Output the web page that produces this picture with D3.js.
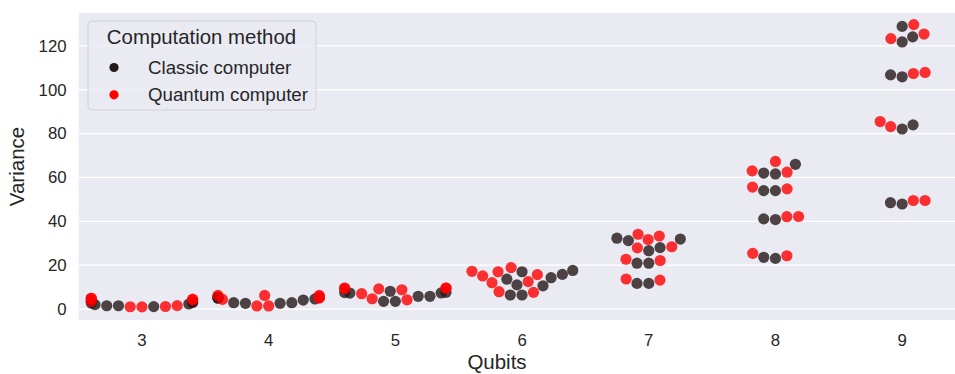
<!DOCTYPE html>
<html>
<head>
<meta charset="utf-8">
<script src="https://cdn.jsdelivr.net/npm/d3@7"></script>
<style>
  body { margin: 0; background: #ffffff; }
  text { font-family: "Liberation Sans", Arial, sans-serif; fill: #262626; }
</style>
</head>
<body>
<svg id="chart" width="955" height="374"></svg>
<script>
// Variance per run, grouped by number of qubits
const qubits = ["3", "4", "5", "6", "7", "8", "9"];
const classicVariance = [
  [1.1, 1.5, 1.5, 2.0, 2.3, 2.7, 3.0, 3.3, 3.8],
  [2.6, 2.6, 2.9, 2.9, 4.1, 4.9, 4.6, 5.2, 5.5],
  [3.5, 3.5, 5.8, 5.8, 7.3, 7.35, 8.1, 7.5, 7.6],
  [6.4, 6.4, 10.6, 11.0, 13.6, 14.3, 15.8, 17.0, 17.6],
  [11.7, 11.7, 20.9, 20.9, 26.6, 28.0, 31.2, 31.9, 32.3],
  [23.1, 23.6, 40.8, 41.1, 54.0, 54.0, 61.6, 62.0, 66.0],
  [47.9, 48.5, 82.1, 84.0, 105.9, 106.8, 121.8, 124.1, 128.9]
];
const quantumVariance = [
  [1.0, 1.05, 1.15, 1.55, 3.5, 4.2, 4.5, 4.9, 4.9],
  [1.4, 1.4, 4.4, 6.2, 6.2, 6.2, 5.0, 5.3, 5.6],
  [4.2, 4.7, 7.0, 8.8, 9.6, 9.6, 9.6, 9.2, 9.4],
  [7.6, 7.9, 12.0, 12.5, 15.1, 15.7, 17.0, 17.2, 18.9],
  [13.2, 13.7, 22.1, 22.7, 27.9, 28.4, 31.7, 33.3, 34.1],
  [24.3, 25.4, 42.1, 42.2, 54.8, 55.6, 62.4, 63.0, 67.3],
  [49.5, 49.5, 83.2, 85.5, 107.4, 107.9, 123.3, 125.4, 129.7]
];
const yTicks = [0, 20, 40, 60, 80, 100, 120];
const methods = ["Classic computer", "Quantum computer"];
const methodColors = ["#241818", "#ff0000"];

const svg = d3.select("#chart");
const plot = { left: 78.6, right: 965.5, top: 13, bottom: 320 };

const x = d3.scaleBand().domain(qubits).range([plot.left, plot.right]).padding(0);
const y = d3.scaleLinear().domain([-5, 135]).range([plot.bottom, plot.top]);
const color = d3.scaleOrdinal().domain(methods).range(methodColors);

// axes background and horizontal grid
svg.append("rect")
  .attr("x", plot.left).attr("y", plot.top)
  .attr("width", plot.right - plot.left).attr("height", plot.bottom - plot.top)
  .attr("fill", "#eaeaf2");

const yAxis = d3.axisLeft(y).tickValues(yTicks).tickSize(0).tickPadding(12);
const gy = svg.append("g").attr("transform", `translate(${plot.left},0)`).call(yAxis);
gy.select(".domain").remove();
gy.selectAll("text").style("font-size", "16.8px").attr("fill", "#262626");

svg.append("g").selectAll("line").data(yTicks).join("line")
  .attr("x1", plot.left).attr("x2", plot.right)
  .attr("y1", d => y(d)).attr("y2", d => y(d))
  .attr("stroke", "#ffffff").attr("stroke-width", 1.3);

const xAxis = d3.axisBottom(x).tickSize(0).tickPadding(14);
const gx = svg.append("g").attr("transform", `translate(0,${plot.bottom})`).call(xAxis);
gx.select(".domain").remove();
gx.selectAll("text").style("font-size", "16.8px").attr("fill", "#262626");

// beeswarm layout: points placed from lowest value upward, each at the
// most central position that does not overlap the points already placed
const R = 5.6;
function beeswarm(pts, mid) {
  const order = pts.slice().sort((a, b) => b.py - a.py);
  const swarm = [];
  for (const p of order) {
    const near = [];
    for (let j = swarm.length - 1; j >= 0; j--) {
      if (swarm[j].py - p.py < 2 * R) near.push(swarm[j]);
      else break;
    }
    const neighbors = near.reverse();
    const cands = [mid];
    let leftFirst = true;
    for (const n of neighbors) {
      const dy = p.py - n.py;
      const dx = Math.sqrt(Math.max(4 * R * R - dy * dy, 0)) * 1.05;
      if (leftFirst) cands.push(n.px - dx, n.px + dx);
      else cands.push(n.px + dx, n.px - dx);
      leftFirst = !leftFirst;
    }
    const sorted = cands.map((c, i) => ({ c, i }))
      .sort((a, b) => (Math.abs(a.c - mid) - Math.abs(b.c - mid)) || (a.i - b.i));
    let chosen = mid;
    for (const { c } of sorted) {
      const ok = neighbors.every(n => (n.px - c) ** 2 + (n.py - p.py) ** 2 >= 4 * R * R - 1e-9);
      if (ok) { chosen = c; break; }
    }
    p.px = chosen;
    swarm.push(p);
  }
}

const points = [];
qubits.forEach((q, qi) => {
  const mid = x(q) + x.bandwidth() / 2;
  const group = [];
  classicVariance[qi].forEach(v => group.push({ q, v, m: methods[0], px: mid, py: y(v) }));
  quantumVariance[qi].forEach(v => group.push({ q, v, m: methods[1], px: mid, py: y(v) }));
  beeswarm(group, mid);
  const half = 0.8 * x.bandwidth() / 2;
  group.forEach(p => { p.px = Math.max(mid - half, Math.min(mid + half, p.px)); });
  points.push(...group);
});

svg.append("g").selectAll("circle").data(points).join("circle")
  .attr("cx", d => d.px).attr("cy", d => d.py).attr("r", R)
  .attr("fill", d => color(d.m)).attr("fill-opacity", 0.8);

// axis titles
svg.append("text").attr("x", 497).attr("y", 369).attr("text-anchor", "middle")
  .style("font-size", "20.5px").text("Qubits");
svg.append("text").attr("transform", `translate(24,${(plot.top + plot.bottom) / 2}) rotate(-90)`)
  .attr("text-anchor", "middle").style("font-size", "20.5px").text("Variance");

// legend
const lg = svg.append("g");
lg.append("rect").attr("x", 88).attr("y", 21).attr("width", 228).attr("height", 89).attr("rx", 4)
  .attr("fill", "#eaeaf2").attr("fill-opacity", 0.8).attr("stroke", "#d2d2d8").attr("stroke-width", 1);
lg.append("text").attr("x", 201.5).attr("y", 44).attr("text-anchor", "middle")
  .style("font-size", "20.4px").text("Computation method");
methods.forEach((m, i) => {
  const cy = 67.5 + i * 27.3;
  lg.append("circle").attr("cx", 114).attr("cy", cy).attr("r", 4.6).attr("fill", color(m));
  lg.append("text").attr("x", 148).attr("y", cy + 6.3).style("font-size", "18.7px").text(m);
});
</script>
</body>
</html>
